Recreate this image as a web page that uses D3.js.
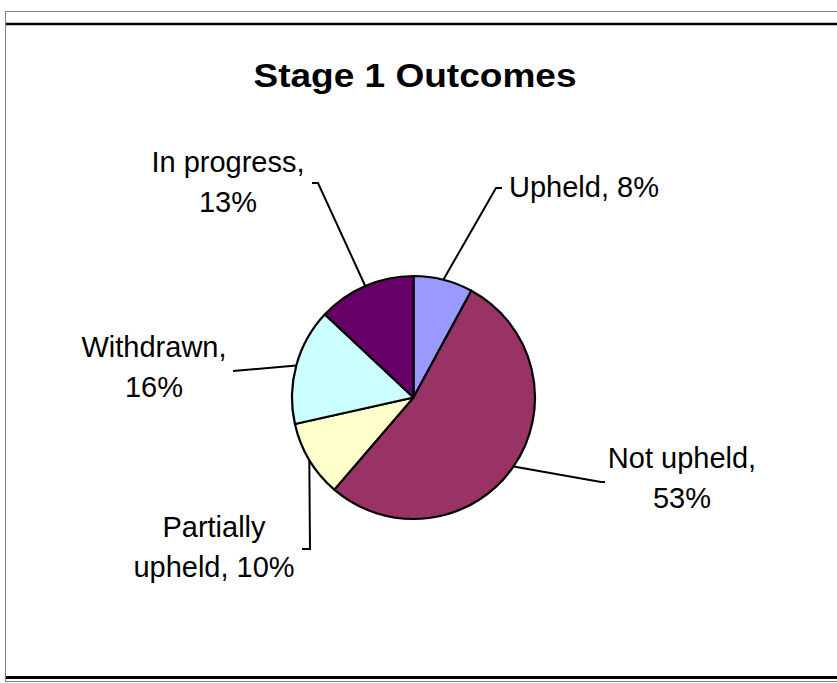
<!DOCTYPE html>
<html>
<head>
<meta charset="utf-8">
<script src="https://cdn.jsdelivr.net/npm/d3@7"></script>
<style>
  html, body { margin: 0; padding: 0; background: #fff; }
  svg { display: block; }
</style>
</head>
<body>
<script>
// chart data
var categories = ["Upheld", "Not upheld", "Partially upheld", "Withdrawn", "In progress"];
var values = [7.9, 53.4, 10.2, 15.5, 13.0];
var colors = ["#9999ff", "#993366", "#ffffcc", "#ccffff", "#660066"];
var title = "Stage 1 Outcomes";

var width = 837;
var height = 683;
var cx = 413.5, cy = 397.5, radius = 121.5;

// label placement: text centre + first baseline, words per first line, leader end points
var labelLayout = {
    "Upheld":           { x: 584, y: 197, brk: 0, leader: [[496, 188], [502, 188]] },
    "Not upheld":       { x: 682, y: 468, brk: 2, leader: [[601, 482], [605, 482]] },
    "Partially upheld": { x: 214, y: 537, brk: 1, leader: [[310, 549], [302, 549]] },
    "Withdrawn":        { x: 154, y: 357, brk: 1, leader: [[233, 371]] },
    "In progress":      { x: 228, y: 172, brk: 2, leader: [[318, 183], [312, 183]] }
};

var data = categories.map(function (c, i) {
    return { name: c, value: values[i], color: colors[i] };
});

var svg = d3.select("body").append("svg")
    .attr("width", width).attr("height", height);

// frame
svg.append("rect")
    .attr("x", 5.5).attr("y", 11.5)
    .attr("width", width).attr("height", 670)
    .attr("fill", "none").attr("stroke", "#808080").attr("stroke-width", 1);
svg.append("line")
    .attr("x1", 6).attr("x2", width).attr("y1", 24).attr("y2", 24)
    .attr("stroke", "#000").attr("stroke-width", 2.5);
svg.append("line")
    .attr("x1", 6).attr("x2", width).attr("y1", 677.5).attr("y2", 677.5)
    .attr("stroke", "#000").attr("stroke-width", 3);

svg.append("text")
    .attr("x", 415).attr("y", 87)
    .attr("text-anchor", "middle")
    .attr("font-family", "'Liberation Sans', Arial, sans-serif")
    .attr("font-weight", "bold")
    .attr("font-size", "33px")
    .attr("textLength", 323)
    .attr("lengthAdjust", "spacingAndGlyphs")
    .text(title);

var pie = d3.pie().sort(null).value(function (d) { return d.value; });
var arc = d3.arc().innerRadius(0).outerRadius(radius);
var edge = d3.arc().innerRadius(radius).outerRadius(radius);

var arcs = pie(data);
var g = svg.append("g").attr("transform", "translate(" + cx + "," + cy + ")");

g.selectAll("path.slice").data(arcs).enter().append("path")
    .attr("class", "slice")
    .attr("d", arc)
    .attr("fill", function (d) { return d.data.color; })
    .attr("stroke", "#000")
    .attr("stroke-width", 2.2)
    .attr("stroke-linejoin", "round");

// leader lines
var line = d3.line();
svg.selectAll("path.leader").data(arcs).enter().append("path")
    .attr("class", "leader")
    .attr("d", function (d) {
        var c = edge.centroid(d);
        var pts = [[cx + c[0], cy + c[1]]].concat(labelLayout[d.data.name].leader);
        return line(pts);
    })
    .attr("fill", "none")
    .attr("stroke", "#000")
    .attr("stroke-width", 2);

// labels
var labels = svg.selectAll("text.label").data(arcs).enter().append("text")
    .attr("class", "label")
    .attr("text-anchor", "middle")
    .attr("font-family", "'Liberation Sans', Arial, sans-serif")
    .attr("font-size", "29px")
    .attr("fill", "#000");

labels.each(function (d) {
    var lay = labelLayout[d.data.name];
    var words = (d.data.name + ", " + Math.round(d.data.value) + "%").split(" ");
    var lines = lay.brk ? [words.slice(0, lay.brk).join(" "), words.slice(lay.brk).join(" ")] : [words.join(" ")];
    var t = d3.select(this);
    lines.forEach(function (l, i) {
        t.append("tspan").attr("x", lay.x).attr("y", lay.y + i * 40).text(l);
    });
});
</script>
</body>
</html>
